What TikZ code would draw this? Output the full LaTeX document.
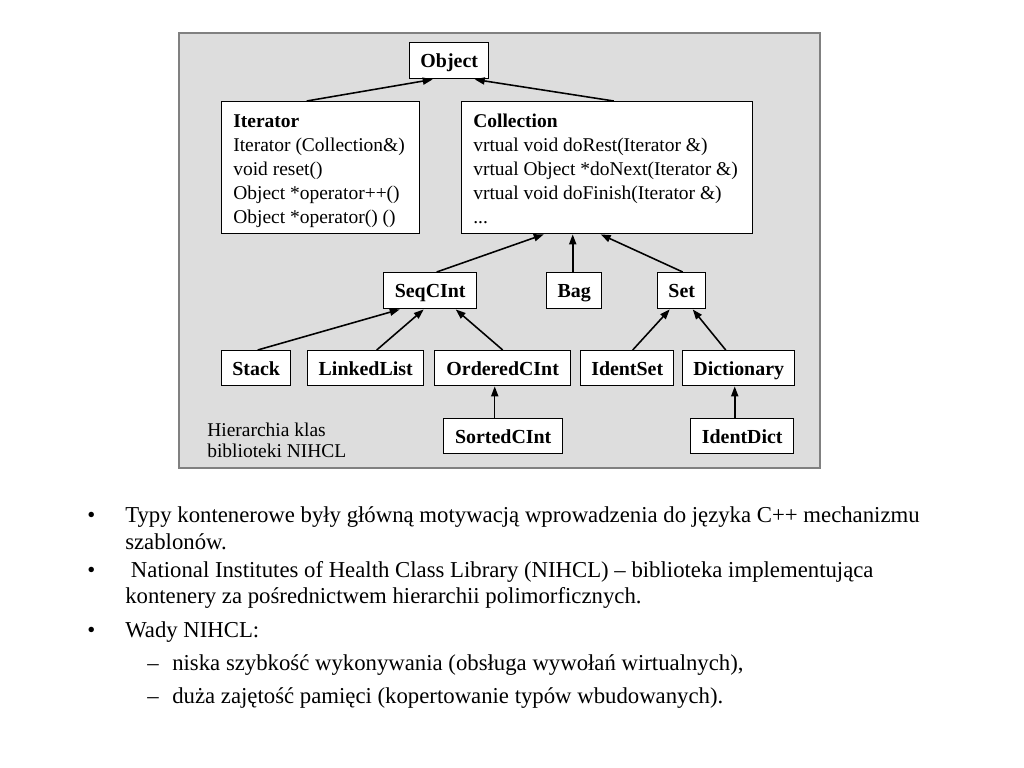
\documentclass[tikz,border=0pt]{standalone}
\usepackage{fontspec}
\setmainfont{Liberation Serif}
\usetikzlibrary{arrows.meta,calc}
\def\px{0.703125pt}
\definecolor{bggray}{RGB}{221,221,221}
\definecolor{bgline}{RGB}{128,128,128}
\begin{document}
\begin{tikzpicture}[x=0.703125pt,y=-0.703125pt,
  cls/.style={draw=black, fill=white, line width=1pt, inner sep=0pt, anchor=north west,
    text height=11pt, text depth=1.2pt,
    font=\fontsize{14}{16.875}\selectfont\bfseries},
  bigbox/.style={draw=black, fill=white, line width=1pt, inner sep=0pt, anchor=north west},
  members/.style={anchor=north west, inner sep=0pt, align=left,
    font=\fontsize{13.7}{16.875}\selectfont},
  inh/.style={line width=1.1pt, -{Triangle[length=7pt,width=5pt]}},
  bul/.style={anchor=base west, inner sep=0pt, font=\fontsize{16}{19}\selectfont},
  note/.style={anchor=north west, inner sep=0pt, align=left, font=\fontsize{13.7}{14.77}\selectfont}]
\useasboundingbox (0,0) rectangle (1024,768);
\fill[bggray, draw=bgline, line width=0.8pt] (179,33) rectangle (820,468);

\node[cls, minimum width=79*\px, minimum height=36*\px] (obj) at (409,42) {Object};
\node[bigbox, minimum width=198*\px, minimum height=132*\px] (iter) at (221,101) {};
\node[members] (iterT) at (233,110.2)
  {\strut\textbf{Iterator}\\Iterator (Collection\&)\\void reset()\\Object *operator++()\\Object *operator() ()};
\node[bigbox, minimum width=291*\px, minimum height=132*\px] (coll) at (461,101) {};
\node[members] (collT) at (473,110.2)
  {\strut\textbf{Collection}\\vrtual void doRest(Iterator \&)\\vrtual Object *doNext(Iterator \&)\\vrtual void doFinish(Iterator \&)\\...};

\node[cls, minimum width=93*\px, minimum height=36*\px] (seq) at (383,272) {SeqCInt};
\node[cls, minimum width=55*\px, minimum height=36*\px] (bag) at (546,272) {Bag};
\node[cls, minimum width=48*\px, minimum height=36*\px] (set) at (657,272) {Set};

\node[cls, minimum width=69*\px, minimum height=35*\px] (stack) at (221,350) {Stack};
\node[cls, minimum width=116*\px, minimum height=35*\px] (ll) at (307,350) {LinkedList};
\node[cls, minimum width=136*\px, minimum height=35*\px] (ord) at (434,350) {OrderedCInt};
\node[cls, minimum width=93*\px, minimum height=35*\px] (iset) at (580,350) {IdentSet};
\node[cls, minimum width=112*\px, minimum height=35*\px] (dict) at (682,350) {Dictionary};
\node[cls, minimum width=119*\px, minimum height=35*\px] (sorted) at (443,418) {SortedCInt};
\node[cls, minimum width=103*\px, minimum height=35*\px] (idict) at (690,418) {IdentDict};

\node[note] (lbl) at (207,422.5) {Hierarchia klas\\biblioteki NIHCL};

\draw[inh] ($(iter.north)+(-14,0)$) -- ($(obj.south)+(-16.5,0)$);
\draw[inh] ($(coll.north)+(6.5,0)$) -- ($(obj.south)+(25.5,0)$);
\draw[inh] ($(seq.north)+(6.5,0)$) -- ($(coll.south)+(-63.5,0)$);
\draw[inh] ($(bag.north)+(-1.5,0)$) -- ($(coll.south)+(-34.5,0)$);
\draw[inh] ($(set.north)+(1,0)$) -- ($(coll.south)+(-6.5,0)$);
\draw[inh] ($(stack.north)+(1.5,0)$) -- ($(seq.south)+(-30.5,0)$);
\draw[inh] ($(ll.north)+(11,0)$) -- ($(seq.south)+(-6.5,0)$);
\draw[inh] (ord.north) -- ($(seq.south)+(25.5,0)$);
\draw[inh] ($(iset.north)+(5.5,0)$) -- ($(set.south)+(-12,0)$);
\draw[inh] ($(dict.north)+(-13,0)$) -- ($(set.south)+(11,0)$);
\draw[inh] ($(sorted.north)+(-8.5,0)$) -- ($(ord.south)+(-8,0)$);
\draw[inh] ($(idict.north)+(-7.5,0)$) -- ($(dict.south)+(-4,0)$);

\node[bul] (b1) at (87,522) {•};
\node[bul] (t1) at (125,522) {Typy kontenerowe były główną motywacją wprowadzenia do języka C++ mechanizmu};
\node[bul] (t2) at (125,549) {szablonów.};
\node[bul] (b2) at (87,577) {•};
\node[bul] (t3) at (125,577) {\ National Institutes of Health Class Library (NIHCL) – biblioteka implementująca};
\node[bul] (t4) at (125,603) {kontenery za pośrednictwem hierarchii polimorficznych.};
\node[bul] (b3) at (87,637) {•};
\node[bul] (t5) at (125,637) {Wady NIHCL:};
\node[bul] (d1) at (147,670) {–};
\node[bul] (t6) at (172,670) {niska szybkość wykonywania (obsługa wywołań wirtualnych),};
\node[bul] (d2) at (147,703) {–};
\node[bul] (t7) at (172,703) {duża zajętość pamięci (kopertowanie typów wbudowanych).};
\end{tikzpicture}
\end{document}
